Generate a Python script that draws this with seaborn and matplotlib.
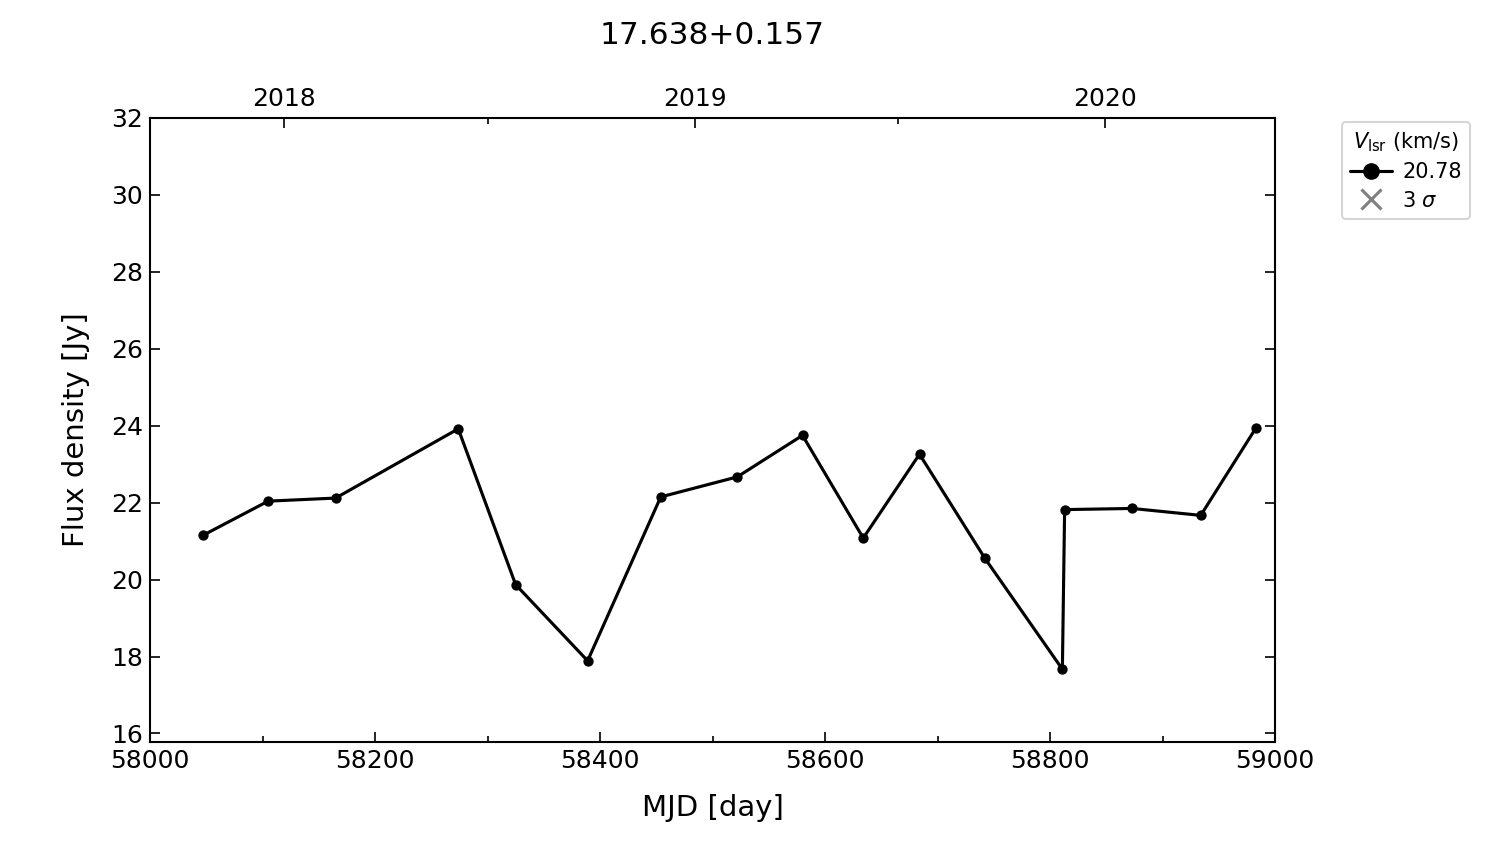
import numpy as np
import pandas as pd
import matplotlib
matplotlib.use("Agg")
import matplotlib.pyplot as plt
from matplotlib.lines import Line2D
from matplotlib.ticker import MultipleLocator, FixedLocator
import seaborn as sns

# Data
mjd = [58047, 58105, 58165, 58274, 58325, 58389, 58454, 58522, 58580,
       58634, 58684, 58742, 58811, 58813, 58873, 58934, 58983]
flux = [21.15, 22.04, 22.12, 23.92, 19.87, 17.89, 22.15, 22.67, 23.75,
        21.08, 23.26, 20.56, 17.67, 21.82, 21.85, 21.67, 23.94]
velocity_label = "20.78"
title = "17.638+0.157"
year_ticks_mjd = [58119, 58484, 58849]
year_labels = ["2018", "2019", "2020"]
midyear_mjd = [58300, 58665]

sns.set_style("ticks")
plt.rcParams['font.family'] = ['DejaVu Sans']
plt.rcParams.update({"text.color": "black", "axes.labelcolor": "black",
                     "xtick.color": "black", "ytick.color": "black",
                     "axes.edgecolor": "black"})

df = pd.DataFrame({"MJD": mjd, "Flux": flux})

fig = plt.figure(figsize=(10, 844 / 150), dpi=150)
ax = fig.add_axes([0.1, 0.1209, 0.75, 0.7393])

sns.lineplot(data=df, x="MJD", y="Flux", ax=ax, color="black", marker="o",
             markersize=4.2, linewidth=1.5, markeredgecolor="black", sort=False)

ax.set_xlim(58000, 59000)
ax.set_ylim(15.78, 32)
ax.xaxis.set_major_locator(MultipleLocator(200))
ax.xaxis.set_minor_locator(MultipleLocator(100))
ax.yaxis.set_major_locator(MultipleLocator(2))
ax.tick_params(axis="both", which="major", direction="in", labelsize=12, length=5,
               width=0.8, right=True, top=False, colors="black")
ax.tick_params(axis="x", which="minor", direction="in", length=3, width=0.8, top=False)
for s in ax.spines.values():
    s.set_linewidth(1.0)
    s.set_color("black")

ax.set_xlabel("MJD [day]", fontsize=14, labelpad=10, color="black")
ax.set_ylabel("Flux density [Jy]", fontsize=14, labelpad=10, color="black")

ax2 = ax.twiny()
ax2.set_xlim(ax.get_xlim())
ax2.xaxis.set_major_locator(FixedLocator(year_ticks_mjd))
ax2.set_xticklabels(year_labels)
ax2.xaxis.set_minor_locator(FixedLocator(midyear_mjd))
ax2.tick_params(axis="x", which="major", direction="in", labelsize=12, length=5, width=0.8,
                colors="black")
ax2.tick_params(axis="x", which="minor", direction="in", length=3, width=0.8)

fig.text(0.475, 0.958, title, ha="center", va="center", fontsize=15, color="black")

handles = [Line2D([0], [0], color="black", marker="o", markersize=7, linewidth=1.5),
           Line2D([0], [0], color="gray", marker="x", markersize=10, linestyle="None",
                  markeredgewidth=1.5)]
leg = ax.legend(handles, [velocity_label, r"3 $\sigma$"], title=r"$V_{\rm lsr}$ (km/s)",
                loc="upper left", bbox_to_anchor=(1.05, 1.01), fontsize=10,
                title_fontsize=10, frameon=True, handlelength=2.0, handletextpad=0.5,
                borderpad=0.4, labelspacing=0.4)
leg.get_frame().set_edgecolor("#cccccc")
for t in leg.get_texts():
    t.set_color("black")
leg.get_title().set_color("black")

fig.savefig("out.png", dpi=150)
